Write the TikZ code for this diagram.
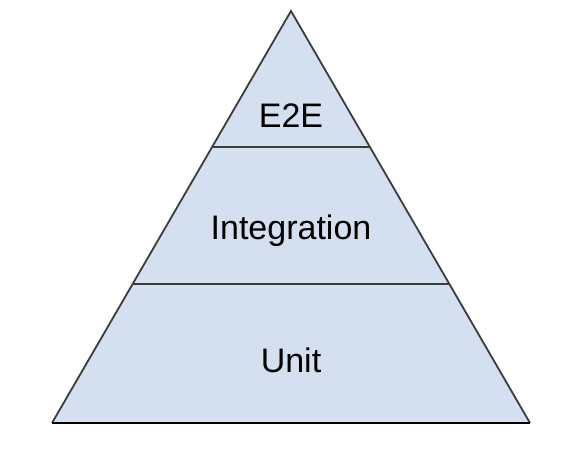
\documentclass[tikz,border=0pt]{standalone}
\usepackage{fontspec}
\setmainfont{Liberation Sans}
\usetikzlibrary{calc}
\definecolor{tierfill}{RGB}{212,224,240}
\definecolor{tierline}{RGB}{60,60,60}

\begin{document}
\begin{tikzpicture}[x=1pt,y=-1pt]
\useasboundingbox (0,0) rectangle (562,448);
\coordinate (T) at (291,11); \coordinate (L) at (52,423); \coordinate (R) at (530,423);
\coordinate (P) at ($(T)!0.330!(L)$); \coordinate (Q) at ($(T)!0.330!(R)$);
\coordinate (U) at ($(T)!0.663!(L)$); \coordinate (V) at ($(T)!0.663!(R)$);
\fill[tierfill] (T)--(L)--(R)--cycle;
\draw[tierline,line width=1.8pt] (P)--(Q); \draw[tierline,line width=1.8pt] (U)--(V);
\draw[tierline,line width=1.8pt,line join=miter] (L)--(T)--(R);
\draw[black,line width=1.8pt] (L)--(R);
\node[font=\fontsize{34}{40}\selectfont] (e2e) at (291,116) {E2E};
\node[font=\fontsize{34}{40}\selectfont] (integ) at (291,231) {Integration};
\node[font=\fontsize{34}{40}\selectfont] (unit) at (291,360) {Unit};
\end{tikzpicture}
\end{document}
